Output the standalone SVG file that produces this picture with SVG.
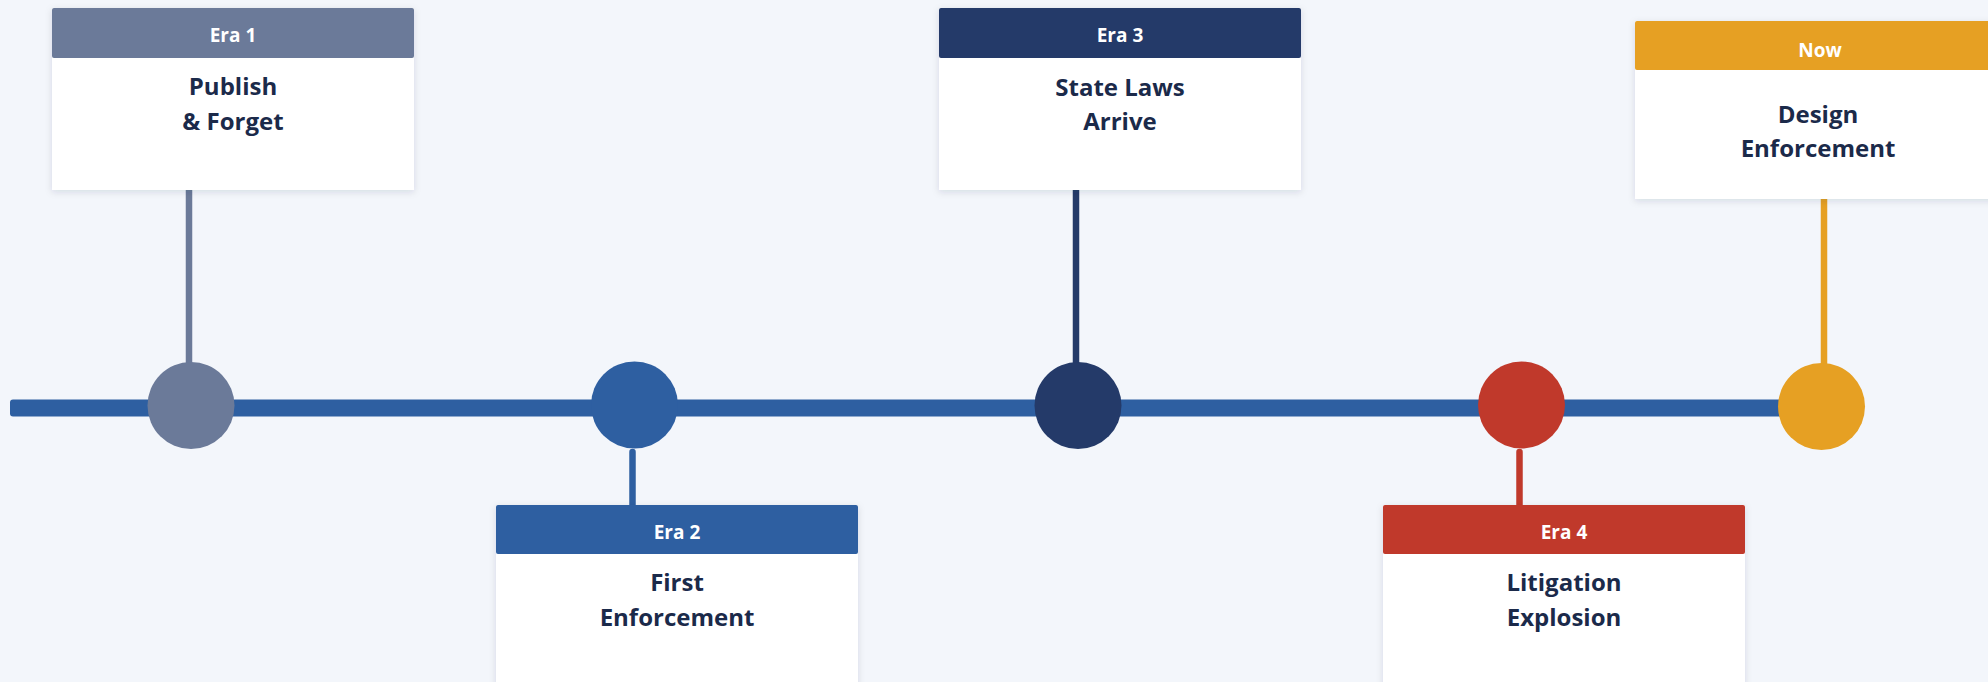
<svg xmlns="http://www.w3.org/2000/svg" width="1988" height="682" viewBox="0 0 1988 682">
<defs>
<filter id="sh" x="-10%" y="-10%" width="120%" height="130%">
<feDropShadow dx="0" dy="2" stdDeviation="3.5" flood-color="#1B2A4A" flood-opacity="0.13"/>
</filter>
<style>
.bg{fill:#F3F6FB}
.body{fill:#FFFFFF}
.hdr{font-family:"Open Sans","Liberation Sans",sans-serif;font-weight:700;font-size:19px;fill:#FFFFFF;text-anchor:middle}
.ttl{font-family:"Open Sans","Liberation Sans",sans-serif;font-weight:700;font-size:24px;fill:#1B2A4A;text-anchor:middle}
.conn{stroke-width:6.5;stroke-linecap:round;fill:none}
</style>
</defs>
<rect class="bg" x="0" y="0" width="1988" height="682"/>
<g id="connectors">
<rect x="10" y="399.5" width="1775" height="17" rx="3" fill="#2E5FA1"/>
<line class="conn" x1="189" y1="185" x2="189" y2="380" stroke="#6B7A99"/>
<line class="conn" x1="632.5" y1="452" x2="632.5" y2="510" stroke="#2E5FA1"/>
<line class="conn" x1="1076" y1="185" x2="1076" y2="380" stroke="#243A69"/>
<line class="conn" x1="1519.5" y1="452" x2="1519.5" y2="510" stroke="#C0392B"/>
<line class="conn" x1="1824" y1="195" x2="1824" y2="380" stroke="#E6A023"/>
</g>
<g id="era1">
<circle cx="191" cy="405.5" r="43.5" fill="#6B7A99"/>
<g filter="url(#sh)">
<rect class="body" x="52" y="8" width="362" height="182"/>
</g>
<rect x="52" y="8" width="362" height="50" rx="2" fill="#6B7A99"/>
<text class="hdr" x="233" y="42">Era 1</text>
<text class="ttl" x="233" y="95">Publish</text>
<text class="ttl" x="233" y="130">&amp; Forget</text>
</g>
<g id="era2">
<circle cx="634.5" cy="405" r="43.5" fill="#2E5FA1"/>
<g filter="url(#sh)">
<rect class="body" x="496" y="505" width="362" height="200"/>
</g>
<rect x="496" y="505" width="362" height="49" rx="2" fill="#2E5FA1"/>
<text class="hdr" x="677" y="538.5">Era 2</text>
<text class="ttl" x="677" y="591">First</text>
<text class="ttl" x="677" y="625.5">Enforcement</text>
</g>
<g id="era3">
<circle cx="1078" cy="405.5" r="43.5" fill="#243A69"/>
<g filter="url(#sh)">
<rect class="body" x="939" y="8" width="362" height="182"/>
</g>
<rect x="939" y="8" width="362" height="50" rx="2" fill="#243A69"/>
<text class="hdr" x="1120" y="42">Era 3</text>
<text class="ttl" x="1120" y="95.5">State Laws</text>
<text class="ttl" x="1120" y="130">Arrive</text>
</g>
<g id="era4">
<circle cx="1521.5" cy="405" r="43.5" fill="#C0392B"/>
<g filter="url(#sh)">
<rect class="body" x="1383" y="505" width="362" height="200"/>
</g>
<rect x="1383" y="505" width="362" height="49" rx="2" fill="#C0392B"/>
<text class="hdr" x="1564" y="538.5">Era 4</text>
<text class="ttl" x="1564" y="591">Litigation</text>
<text class="ttl" x="1564" y="625.5">Explosion</text>
</g>
<g id="now">
<circle cx="1821.5" cy="406.5" r="43.5" fill="#E6A023"/>
<g filter="url(#sh)">
<rect class="body" x="1635" y="21" width="366" height="178"/>
</g>
<rect x="1635" y="21" width="366" height="49" rx="2" fill="#E6A023"/>
<text class="hdr" x="1820" y="57">Now</text>
<text class="ttl" x="1818" y="123">Design</text>
<text class="ttl" x="1818" y="157">Enforcement</text>
</g>
</svg>
